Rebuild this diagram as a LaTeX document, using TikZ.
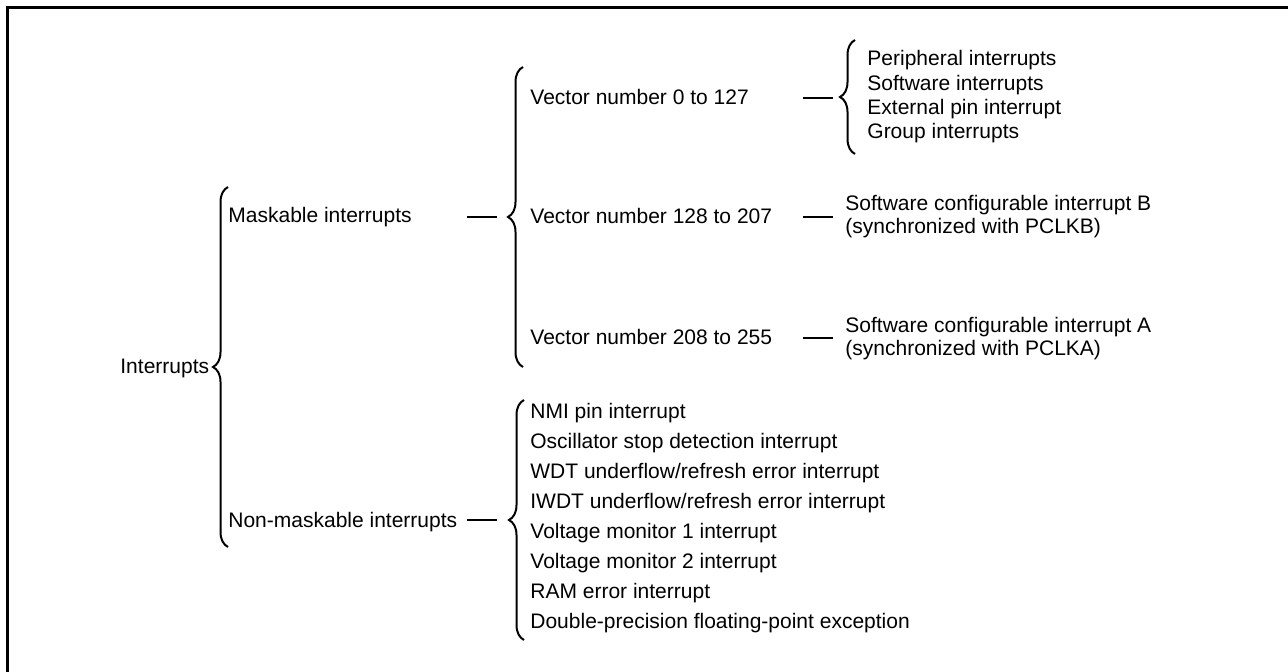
\documentclass[tikz,border=0pt]{standalone}
\usepackage{fontspec}
\setmainfont{Liberation Sans}
\usetikzlibrary{decorations.pathreplacing}

\begin{document}
\begin{tikzpicture}[
    x=0.5pt, y=-0.5pt,
    txt/.style={inner sep=0pt, anchor=base west, font=\fontsize{10.5}{12.6}\selectfont},
    list/.style={inner sep=0pt, anchor=west, align=left},
    curly/.style={decorate, decoration={brace, amplitude=7.5pt}, line width=1pt},
    link/.style={line width=1pt}
]
\useasboundingbox (0,0) rectangle (1288,672);

% Frame
\draw[line width=1.5pt] (1288,7.5) -- (7.5,7.5) -- (7.5,672);

% Level 0 and 1
\node[txt] (intr) at (120,374) {Interrupts};
\node[txt] (mask) at (228,223) {Maskable interrupts};
\node[txt] (nonmask) at (228,527) {Non-maskable interrupts};

% Level 2
\node[txt] (vec0) at (530,105) {Vector number 0 to 127};
\node[txt] (vec128) at (530,224) {Vector number 128 to 207};
\node[txt] (vec208) at (530,345) {Vector number 208 to 255};
\node[list, font=\fontsize{10.5}{15}\selectfont] (nmilist) at (530,518)
    {NMI pin interrupt\\Oscillator stop detection interrupt\\WDT underflow/refresh error interrupt\\IWDT underflow/refresh error interrupt\\Voltage monitor 1 interrupt\\Voltage monitor 2 interrupt\\RAM error interrupt\\Double-precision floating-point exception};

% Level 3
\node[list, font=\fontsize{10.5}{12.15}\selectfont] (srclist) at (867,97)
    {Peripheral interrupts\\Software interrupts\\External pin interrupt\\Group interrupts};
\node[list, font=\fontsize{10.5}{11.5}\selectfont] (swb) at (845,216.5)
    {Software configurable interrupt B\\(synchronized with PCLKB)};
\node[list, font=\fontsize{10.5}{11.5}\selectfont] (swa) at (845,338.5)
    {Software configurable interrupt A\\(synchronized with PCLKA)};

% Brace ends
\coordinate (intr-top) at (228,187);
\coordinate (intr-bot) at (228,547);
\coordinate (mask-top) at (523,67);
\coordinate (mask-bot) at (523,367);
\coordinate (nonmask-top) at (524,400);
\coordinate (nonmask-bot) at (524,640);
\coordinate (vec0-top) at (855,40);
\coordinate (vec0-bot) at (855,154);

% Braces
\draw[curly] (intr-bot) -- (intr-top);
\draw[curly] (mask-bot) -- (mask-top);
\draw[curly] (nonmask-bot) -- (nonmask-top);
\draw[curly] (vec0-bot) -- (vec0-top);

% Dash ends
\coordinate (mask-a) at (467,217);
\coordinate (mask-b) at (497,217);
\coordinate (nonmask-a) at (467,520);
\coordinate (nonmask-b) at (497,520);
\coordinate (vec0-a) at (803,98);
\coordinate (vec0-b) at (833,98);
\coordinate (vec128-a) at (803,217);
\coordinate (vec128-b) at (833,217);
\coordinate (vec208-a) at (803,338);
\coordinate (vec208-b) at (833,338);

% Dashes
\draw[link] (mask-a) -- (mask-b);
\draw[link] (nonmask-a) -- (nonmask-b);
\draw[link] (vec0-a) -- (vec0-b);
\draw[link] (vec128-a) -- (vec128-b);
\draw[link] (vec208-a) -- (vec208-b);
\end{tikzpicture}
\end{document}
